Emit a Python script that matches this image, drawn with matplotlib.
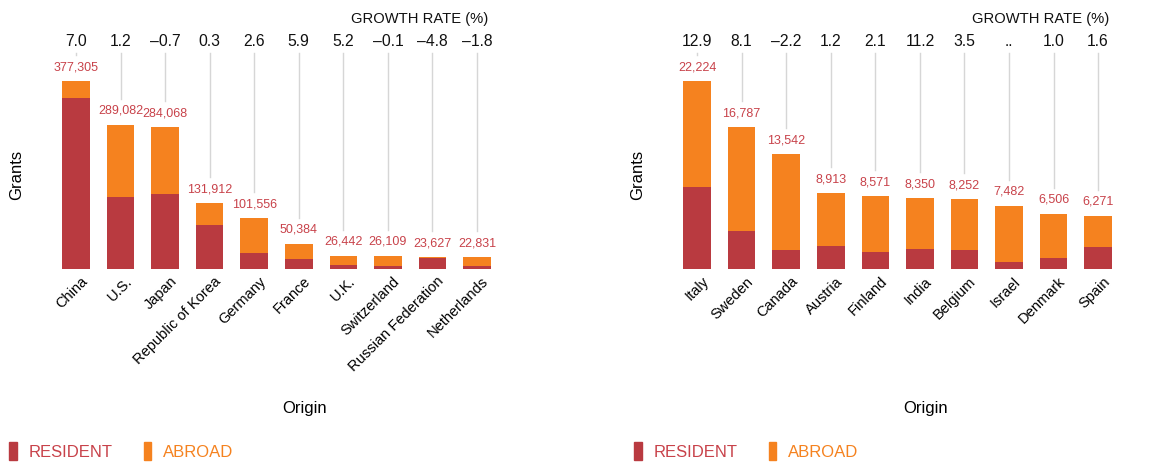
import numpy as np
import matplotlib
matplotlib.use('Agg')
import matplotlib.pyplot as plt
from matplotlib.patches import Patch

plt.rcParams['font.family'] = ['Liberation Sans', 'DejaVu Sans']

# left panel
origins_a = ['China', 'U.S.', 'Japan', 'Republic of Korea', 'Germany', 'France',
             'U.K.', 'Switzerland', 'Russian Federation', 'Netherlands']
total_a = [377305, 289082, 284068, 131912, 101556, 50384, 26442, 26109, 23627, 22831]
resident_a = [343700, 144100, 150700, 88400, 31500, 19500, 6800, 4800, 20900, 5400]
growth_a = ['7.0', '1.2', '\u20130.7', '0.3', '2.6', '5.9', '5.2', '\u20130.1', '\u20134.8', '\u20131.8']

# right panel
origins_b = ['Italy', 'Sweden', 'Canada', 'Austria', 'Finland', 'India', 'Belgium',
             'Israel', 'Denmark', 'Spain']
total_b = [22224, 16787, 13542, 8913, 8571, 8350, 8252, 7482, 6506, 6271]
resident_b = [9670, 4430, 2250, 2650, 2010, 2330, 2250, 760, 1300, 2570]
growth_b = ['12.9', '8.1', '\u20132.2', '1.2', '2.1', '11.2', '3.5', '..', '1.0', '1.6']

RED = '#b93a40'
ORANGE = '#f5821f'
LABEL_RED = '#c8424a'

W, H = 1173, 463
fig = plt.figure(figsize=(W / 100, H / 100), dpi=100)


def panel(left_px, origins, total, resident, growth, legend_x):
    right_px = left_px + 445.6
    base_px, top_px = 268.7, 81
    ax = fig.add_axes([left_px / W, (H - base_px) / H,
                       (right_px - left_px) / W, (base_px - top_px) / H])
    x = np.arange(len(origins))
    total = np.array(total)
    resident = np.array(resident)
    abroad = total - resident
    ymax = total.max()
    ax.bar(x, resident, width=0.62, color=RED, zorder=2)
    ax.bar(x, abroad, bottom=resident, width=0.62, color=ORANGE, zorder=2)
    ax.set_xlim(-0.5, len(x) - 0.5)
    ax.set_ylim(0, ymax)
    ax.axis('off')

    px_to_data = ymax / (base_px - top_px)
    line_top = (base_px - 53) / (base_px - top_px) * ymax
    for i in range(len(x)):
        ax.annotate(f'{total[i]:,}', (x[i], total[i]), xytext=(0, 10),
                    textcoords='offset points', ha='center', va='center',
                    fontsize=9, color=LABEL_RED, annotation_clip=False)
        low = total[i] + 26 * px_to_data
        if low < line_top:
            ax.plot([x[i], x[i]], [low, line_top], color='#d6d6d6', lw=1,
                    clip_on=False, zorder=1)
        ax.text(x[i], (base_px - 42) / (base_px - top_px) * ymax, growth[i],
                ha='center', va='center', fontsize=11.3, color='#111111')
        ax.text(x[i] + 0.1, -0.03 * ymax, origins[i], rotation=45, ha='right',
                va='top', rotation_mode='anchor', fontsize=10.5)
    ax.text(len(x) - 0.75, (base_px - 19) / (base_px - top_px) * ymax,
            'GROWTH RATE (%)', ha='right', va='center', fontsize=10.6,
            color='#111111')
    ax.text(-0.5 - 37 / 44.6, 0.5 * ymax, 'Grants', rotation=90, ha='center',
            va='center', fontsize=12)
    fig.text((left_px + 251) / W, (H - 408) / H, 'Origin', ha='center',
             va='center', fontsize=12)

    handles = [Patch(color=RED), Patch(color=ORANGE)]
    leg = fig.legend(handles, ['RESIDENT', 'ABROAD'], loc='center left',
                     bbox_to_anchor=(legend_x / W, (H - 451) / H), ncol=2,
                     frameon=False, handlelength=0.45, handleheight=1.3,
                     handletextpad=0.7, columnspacing=1.9, fontsize=12,
                     borderaxespad=0, borderpad=0)
    for t, c in zip(leg.get_texts(), [LABEL_RED, ORANGE]):
        t.set_color(c)
    return ax


panel(53.7, origins_a, total_a, resident_a, growth_a, 9)
panel(674.8, origins_b, total_b, resident_b, growth_b, 634)

fig.savefig('out.png', dpi=100)
